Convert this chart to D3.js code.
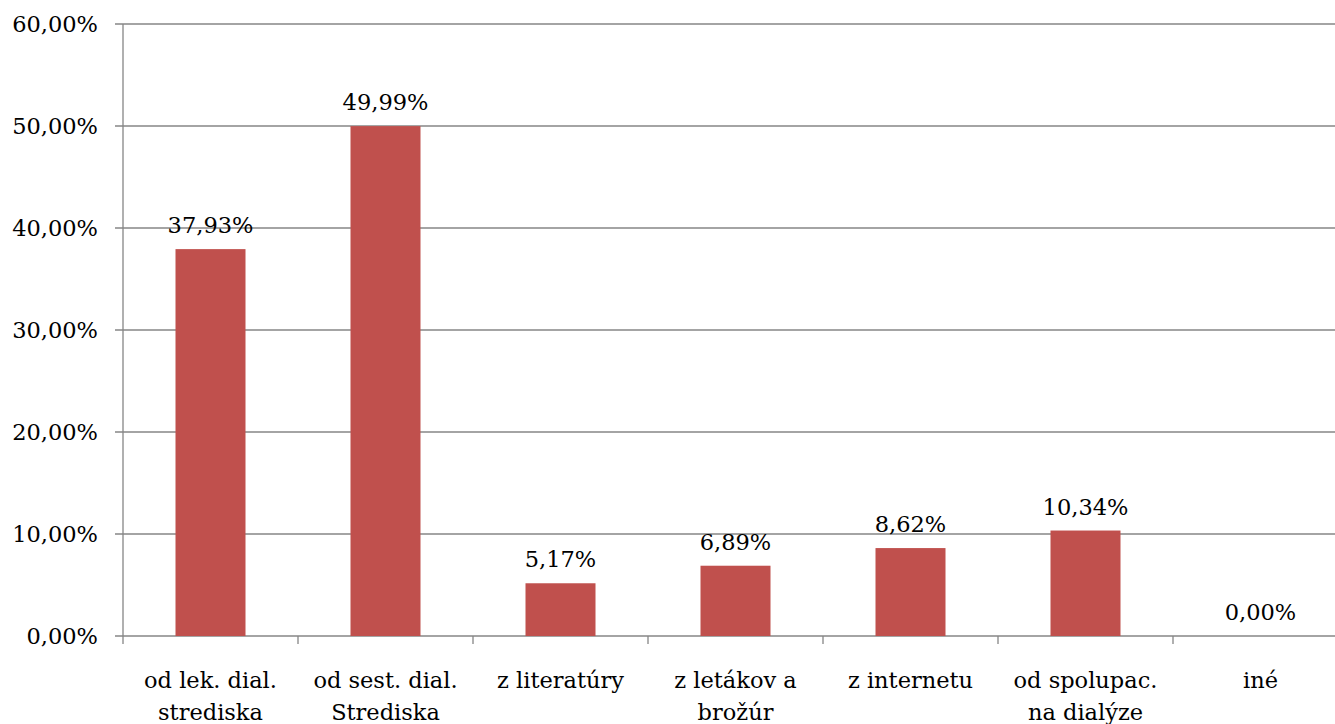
<!DOCTYPE html>
<html><head><meta charset="utf-8">
<script src="https://cdn.jsdelivr.net/npm/d3@7/dist/d3.min.js"></script>
<style>
body{margin:0;background:#fff;}
text{font-family:"DejaVu Serif","Liberation Serif",serif;fill:#000;}
</style></head>
<body><svg id="c" width="1335" height="724"></svg>
<script>
const categories = [["od lek. dial.","strediska"],["od sest. dial.","Strediska"],["z literatúry"],["z letákov a","brožúr"],["z internetu"],["od spolupac.","na dialýze"],["iné"]];
const values = [37.93, 49.99, 5.17, 6.89, 8.62, 10.34, 0.00];
const yTicks = [0,10,20,30,40,50,60];

const svg = d3.select("#c");
const pLeft = 123, pRight = 1348, pTop = 24, pBottom = 636;
const fs = 22.5;
const fmt = v => v.toFixed(2).replace(".", ",") + "%";

const x = d3.scaleBand().domain(d3.range(categories.length)).range([pLeft, pRight]).paddingInner(0.6).paddingOuter(0.3);
const xb = d3.scaleBand().domain(d3.range(categories.length)).range([pLeft, pRight]);
const y = d3.scaleLinear().domain([0,60]).range([pBottom, pTop]);

// gridlines
svg.append("g").selectAll("line").data(yTicks).join("line")
  .attr("x1", pLeft - 8).attr("x2", 1335).attr("y1", d=>y(d)).attr("y2", d=>y(d))
  .attr("stroke", "#868686").attr("stroke-width", 1.3);

// y axis line
svg.append("line").attr("x1", pLeft).attr("x2", pLeft).attr("y1", pTop).attr("y2", pBottom + 8)
  .attr("stroke", "#868686").attr("stroke-width", 1.3);

// x tick marks at band boundaries
svg.append("g").selectAll("line").data(d3.range(1, categories.length)).join("line")
  .attr("x1", d=>xb(d)).attr("x2", d=>xb(d)).attr("y1", pBottom).attr("y2", pBottom + 8)
  .attr("stroke", "#868686").attr("stroke-width", 1.3);

// y labels
svg.append("g").selectAll("text").data(yTicks).join("text")
  .attr("x", 98).attr("y", d=>y(d)).attr("dy", "0.35em").attr("text-anchor", "end")
  .attr("font-size", fs).text(d=>fmt(d));

// bars
svg.append("g").selectAll("rect").data(values).join("rect")
  .attr("x", (d,i)=>x(i)).attr("width", x.bandwidth())
  .attr("y", d=>y(d)).attr("height", d=>pBottom - y(d)).attr("fill", "#C0504D");

// data labels
svg.append("g").selectAll("text").data(values).join("text")
  .attr("x", (d,i)=>x(i) + x.bandwidth()/2).attr("y", d=>y(d) - 16)
  .attr("text-anchor", "middle").attr("font-size", fs).text(d=>fmt(d));

// category labels
const cl = svg.append("g").selectAll("text").data(categories).join("text")
  .attr("x", (d,i)=>xb(i) + xb.bandwidth()/2).attr("y", 688)
  .attr("text-anchor", "middle").attr("font-size", fs);
cl.selectAll("tspan").data(d=>d).join("tspan")
  .attr("x", function(){return this.parentNode.getAttribute("x");})
  .attr("dy", (d,i)=> i===0 ? 0 : 32).text(d=>d);
</script></body></html>
